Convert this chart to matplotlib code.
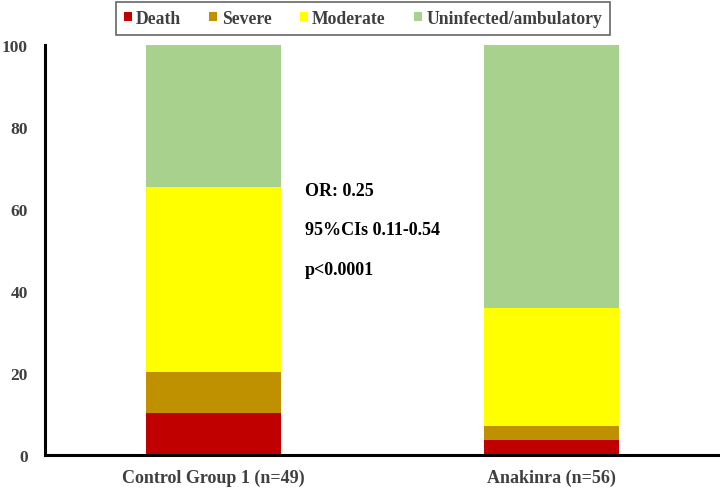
import numpy as np
import matplotlib.pyplot as plt

# Data (percent of patients)
groups = ['Control Group 1 (n=49)', 'Anakinra (n=56)']
outcomes = ['Death', 'Severe', 'Moderate', 'Uninfected/ambulatory']
death = [10.2, 3.6]
severe = [10.2, 3.6]
moderate = [44.9, 28.6]
uninfected = [34.7, 64.2]
colors = ['#c00000', '#bf9000', '#ffff00', '#a9d18e']

plt.rcParams['font.family'] = ['Liberation Serif', 'DejaVu Serif']
plt.rcParams['font.weight'] = 'bold'

fig = plt.figure(figsize=(7.2, 4.89), dpi=100)
ax = fig.add_axes([0.062, 0.067, 0.938, 0.839])

x = np.arange(len(groups))
bottom = np.zeros(len(groups))
for name, vals, c in zip(outcomes, [death, severe, moderate, uninfected], colors):
    ax.bar(x, vals, width=0.4, bottom=bottom, color=c, label=name)
    bottom += np.array(vals)

ax.set_xlim(-0.5, 1.5)
ax.set_ylim(0, 100)
ax.set_xticks(x)
ax.set_xticklabels(groups, fontsize=13, color='#404040', fontweight='bold')
ax.set_yticks([0, 20, 40, 60, 80, 100])
ax.tick_params(axis='both', length=0, pad=10)
ax.tick_params(axis='y', labelsize=12.5, labelcolor='#404040', pad=12)
for lab in ax.get_yticklabels():
    lab.set_fontweight('bold')

for s in ['top', 'right']:
    ax.spines[s].set_visible(False)
for s in ['left', 'bottom']:
    ax.spines[s].set_linewidth(2.2)

# Statistics annotation
ax.text(0.27, 64.6, 'OR: 0.25', fontsize=13, fontweight='bold', va='center')
ax.text(0.27, 55.0, '95%CIs 0.11-0.54', fontsize=13, fontweight='bold', va='center')
ax.text(0.27, 45.3, 'p<0.0001', fontsize=13, fontweight='bold', va='center')

leg = fig.legend(loc='upper center', bbox_to_anchor=(0.504, 0.998), ncol=4,
                 fontsize=12.7, frameon=True, fancybox=False, edgecolor='#404040',
                 handlelength=0.45, handleheight=0.45, handletextpad=0.25,
                 columnspacing=1.6, borderpad=0.45, borderaxespad=0.1)
leg.get_frame().set_linewidth(1.2)
for t in leg.get_texts():
    t.set_color('#404040')
    t.set_fontweight('bold')

plt.savefig('out.png', dpi=100)
